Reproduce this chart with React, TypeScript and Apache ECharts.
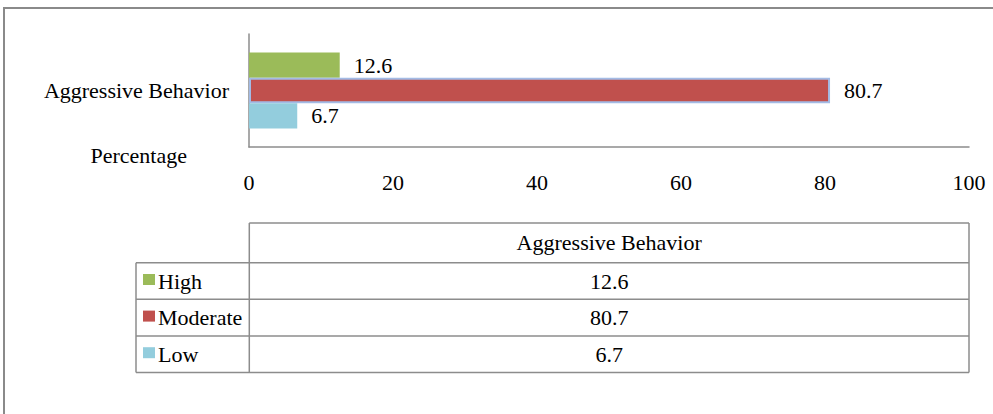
import React, { useEffect, useRef } from "react";
import * as echarts from "echarts";

const categories = ["Aggressive Behavior"];
const seriesNames = ["High", "Moderate", "Low"];
const highValues = [12.6];
const moderateValues = [80.7];
const lowValues = [6.7];
const seriesColors = ["#9BBB59", "#C0504D", "#93CDDD"];
const xMin = 0;
const xMax = 100;
const xInterval = 20;
const xAxisTitle = "Percentage";

const FONT = "'Liberation Serif', 'Times New Roman', serif";
const FS = 22;
const LINE = "#8c8c8c";

export default function App() {
  const ref = useRef<HTMLDivElement>(null);
  useEffect(() => {
    if (!ref.current) return;
    const chart = echarts.init(ref.current, null, { renderer: "svg" });
    const values = [highValues, moderateValues, lowValues];

    // table geometry
    const tLeft = 136;
    const tMid = 249.3;
    const tRight = 969;
    const headTop = 223;
    const rowTop = 262.7;
    const rowH = 36.6;
    const rowsBottom = rowTop + rowH * seriesNames.length;
    const valCenterX = (tMid + tRight) / 2;

    const graphics: any[] = [];
    graphics.push({
      type: "rect",
      shape: { x: 4, y: 8, width: 1200, height: 600 },
      style: { fill: "none", stroke: "#8a8a8a", lineWidth: 2 },
      silent: true,
    });
    graphics.push({
      type: "text",
      x: 187,
      y: 155,
      style: {
        text: xAxisTitle,
        font: `${FS}px ${FONT}`,
        fill: "#000",
        align: "right",
        verticalAlign: "middle",
      },
    });
    const hline = (x1: number, x2: number, y: number) => ({
      type: "line",
      shape: { x1, y1: y, x2, y2: y },
      style: { stroke: LINE, lineWidth: 1.5 },
      silent: true,
    });
    const vline = (x: number, y1: number, y2: number) => ({
      type: "line",
      shape: { x1: x, y1, x2: x, y2 },
      style: { stroke: LINE, lineWidth: 1.5 },
      silent: true,
    });
    graphics.push(hline(tMid, tRight, headTop));
    for (let i = 0; i <= seriesNames.length; i++) {
      graphics.push(hline(tLeft, tRight, rowTop + i * rowH));
    }
    graphics.push(vline(tLeft, rowTop, rowsBottom));
    graphics.push(vline(tMid, headTop, rowsBottom));
    graphics.push(vline(tRight, headTop, rowsBottom));
    graphics.push({
      type: "text",
      x: valCenterX,
      y: (headTop + rowTop) / 2,
      style: {
        text: categories[0],
        font: `${FS}px ${FONT}`,
        fill: "#000",
        align: "center",
        verticalAlign: "middle",
      },
    });
    seriesNames.forEach((name, i) => {
      const cy = rowTop + rowH * (i + 0.5);
      // legend key
      graphics.push({
        type: "rect",
        shape: { x: 143, y: cy - 7, width: 12, height: 11 },
        style: { fill: seriesColors[i] },
      });
      graphics.push({
        type: "text",
        x: 158,
        y: cy,
        style: {
          text: name,
          font: `${FS}px ${FONT}`,
          fill: "#000",
          align: "left",
          verticalAlign: "middle",
        },
      });
      graphics.push({
        type: "text",
        x: valCenterX,
        y: cy,
        style: {
          text: String(values[i][0]),
          font: `${FS}px ${FONT}`,
          fill: "#000",
          align: "center",
          verticalAlign: "middle",
        },
      });
    });

    const series = seriesNames.map((name, i) => ({
      name,
      type: "bar",
      data: values[i],
      barWidth: 25.3,
      barGap: "0%",
      itemStyle:
        i === 1
          ? { color: seriesColors[i], borderColor: "#A3BBE5", borderWidth: 2 }
          : { color: seriesColors[i] },
      label: {
        show: true,
        position: "right",
        distance: 14,
        color: "#000",
        fontFamily: FONT,
        fontSize: FS,
      },
    }));

    chart.setOption({
      animation: false,
      backgroundColor: "#fff",
      textStyle: { fontFamily: FONT },
      grid: { left: 249, right: 24, top: 34, height: 113, containLabel: false },
      xAxis: {
        type: "value",
        min: xMin,
        max: xMax,
        interval: xInterval,
        axisLine: { show: true, lineStyle: { color: LINE, width: 1.5 } },
        axisTick: { show: false },
        splitLine: { show: false },
        axisLabel: { color: "#000", fontFamily: FONT, fontSize: FS, margin: 24 },
      },
      yAxis: {
        type: "category",
        data: categories,
        axisLine: { show: true, lineStyle: { color: LINE, width: 1.5 } },
        axisTick: { show: false },
        axisLabel: { color: "#000", fontFamily: FONT, fontSize: FS, margin: 20 },
      },
      series,
      graphic: graphics,
    });
    return () => chart.dispose();
  }, []);
  return (
    <div
      ref={ref}
      style={{ position: "absolute", left: 0, top: 0, width: 993, height: 414 }}
    />
  );
}
